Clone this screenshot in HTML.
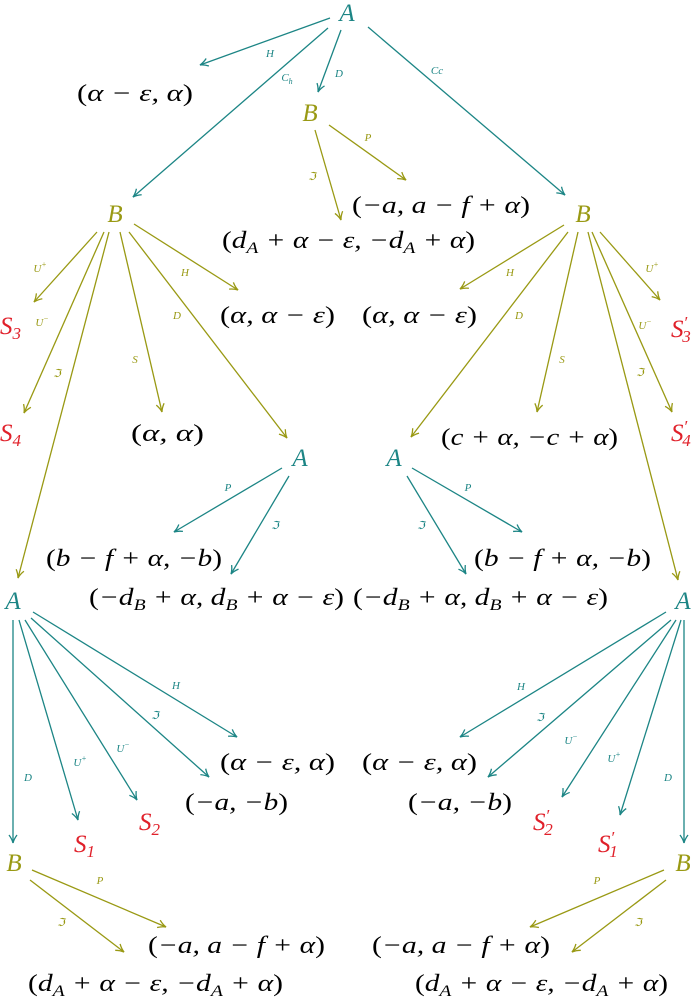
<!DOCTYPE html>
<html><head><meta charset="utf-8"><style>
html,body{margin:0;padding:0;background:#fff;font-family:"Liberation Serif",serif;}
svg{display:block;}
svg text{font-family:"Liberation Serif",serif !important;}
.m{font-style:italic;font-size:24px;fill:#000;}
.n{font-style:italic;font-size:25px;}
.l{font-style:italic;font-size:11px;text-anchor:middle;}
.t{fill:#1c8585;} .o{fill:#999913;} .r{fill:#e0202a;}
.lt{stroke:#1c8585;stroke-width:1.3;fill:none;marker-end:url(#at);}
.lo{stroke:#999913;stroke-width:1.3;fill:none;marker-end:url(#ao);}
.up{font-style:normal;}
</style></head><body>
<svg width="696" height="1000" viewBox="0 0 696 1000" xmlns="http://www.w3.org/2000/svg" font-family="Liberation Serif, serif">
<defs>
<marker id="at" markerWidth="12" markerHeight="10" refX="9" refY="5" orient="auto" markerUnits="userSpaceOnUse"><path d="M1,1 Q5,4 9,5 Q5,6 1,9" stroke="#1c8585" stroke-width="1.3" fill="none"/></marker>
<marker id="ao" markerWidth="12" markerHeight="10" refX="9" refY="5" orient="auto" markerUnits="userSpaceOnUse"><path d="M1,1 Q5,4 9,5 Q5,6 1,9" stroke="#999913" stroke-width="1.3" fill="none"/></marker>
</defs>

<text class="n t" x="347" y="21" text-anchor="middle">A</text>
<line class="lt" x1="330" y1="18" x2="200" y2="65"/>
<line class="lt" x1="328" y1="28" x2="133" y2="197"/>
<line class="lt" x1="341" y1="30" x2="318" y2="92"/>
<line class="lt" x1="368" y1="27" x2="565" y2="195"/>
<text class="l t" x="270" y="57">H</text>
<text class="l t" x="287" y="81">C<tspan font-size="8" dy="3">h</tspan></text>
<text class="l t" x="339" y="77">D</text>
<text class="l t" x="437" y="74">Cc</text>
<text class="m" x="77" y="101" textLength="116" lengthAdjust="spacingAndGlyphs"><tspan class="up">(</tspan>α − ε, α<tspan class="up">)</tspan></text>

<text class="n o" x="310" y="121" text-anchor="middle">B</text>
<line class="lo" x1="329" y1="125" x2="406" y2="180"/>
<line class="lo" x1="315" y1="130" x2="341" y2="220"/>
<text class="l o" x="368" y="141">P</text>
<text class="l o" x="312" y="180">ℑ</text>
<text class="m" x="352" y="213" textLength="178" lengthAdjust="spacingAndGlyphs"><tspan class="up">(</tspan>−a, a − f + α<tspan class="up">)</tspan></text>
<text class="m" x="222" y="248" textLength="253" lengthAdjust="spacingAndGlyphs"><tspan class="up">(</tspan>d<tspan font-size="16" dy="5">A</tspan><tspan dy="-5"> + α − ε, −d</tspan><tspan font-size="16" dy="5">A</tspan><tspan dy="-5"> + α</tspan><tspan class="up">)</tspan></text>

<text class="n o" x="115" y="222" text-anchor="middle">B</text>
<line class="lo" x1="97" y1="232" x2="34" y2="302"/>
<line class="lo" x1="104" y1="232" x2="24" y2="413"/>
<line class="lo" x1="109" y1="232" x2="18" y2="578"/>
<line class="lo" x1="120" y1="232" x2="162" y2="412"/>
<line class="lo" x1="129" y1="232" x2="287" y2="438"/>
<line class="lo" x1="134" y1="224" x2="238" y2="290"/>
<text class="l o" x="40" y="272">U<tspan font-size="8" dy="-5">+</tspan></text>
<text class="l o" x="42" y="326">U<tspan font-size="8" dy="-5">−</tspan></text>
<text class="l o" x="57" y="377">ℑ</text>
<text class="l o" x="135" y="363">S</text>
<text class="l o" x="177" y="319">D</text>
<text class="l o" x="185" y="276">H</text>
<text class="n r" x="0" y="334">S<tspan font-size="17" dy="5">3</tspan></text>
<text class="n r" x="0" y="441">S<tspan font-size="17" dy="5">4</tspan></text>
<text class="m" x="220" y="323" textLength="115" lengthAdjust="spacingAndGlyphs"><tspan class="up">(</tspan>α, α − ε<tspan class="up">)</tspan></text>
<text class="m" x="131" y="441" textLength="73" lengthAdjust="spacingAndGlyphs"><tspan class="up">(</tspan>α, α<tspan class="up">)</tspan></text>

<text class="n o" x="583" y="222" text-anchor="middle">B</text>
<line class="lo" x1="564" y1="225" x2="460" y2="289"/>
<line class="lo" x1="568" y1="232" x2="411" y2="437"/>
<line class="lo" x1="578" y1="232" x2="537" y2="412"/>
<line class="lo" x1="588" y1="232" x2="678" y2="580"/>
<line class="lo" x1="592" y1="232" x2="672" y2="412"/>
<line class="lo" x1="600" y1="232" x2="660" y2="300"/>
<text class="l o" x="510" y="276">H</text>
<text class="l o" x="519" y="319">D</text>
<text class="l o" x="562" y="363">S</text>
<text class="l o" x="640" y="376">ℑ</text>
<text class="l o" x="645" y="329">U<tspan font-size="8" dy="-5">−</tspan></text>
<text class="l o" x="652" y="272">U<tspan font-size="8" dy="-5">+</tspan></text>
<text class="n r" x="671" y="337">S<tspan font-size="17" dy="-9">′</tspan><tspan font-size="17" dx="-5" dy="14">3</tspan></text>
<text class="n r" x="671" y="441">S<tspan font-size="17" dy="-9">′</tspan><tspan font-size="17" dx="-5" dy="14">4</tspan></text>
<text class="m" x="362" y="323" textLength="115" lengthAdjust="spacingAndGlyphs"><tspan class="up">(</tspan>α, α − ε<tspan class="up">)</tspan></text>
<text class="m" x="441" y="445" textLength="177" lengthAdjust="spacingAndGlyphs"><tspan class="up">(</tspan>c + α, −c + α<tspan class="up">)</tspan></text>

<text class="n t" x="300" y="466" text-anchor="middle">A</text>
<line class="lt" x1="282" y1="468" x2="174" y2="532"/>
<line class="lt" x1="289" y1="476" x2="231" y2="574"/>
<text class="l t" x="228" y="491">P</text>
<text class="l t" x="275" y="529">ℑ</text>
<text class="n t" x="394" y="466" text-anchor="middle">A</text>
<line class="lt" x1="412" y1="468" x2="522" y2="532"/>
<line class="lt" x1="407" y1="476" x2="466" y2="574"/>
<text class="l t" x="468" y="491">P</text>
<text class="l t" x="421" y="529">ℑ</text>
<text class="m" x="46" y="566" textLength="176" lengthAdjust="spacingAndGlyphs"><tspan class="up">(</tspan>b − f + α, −b<tspan class="up">)</tspan></text>
<text class="m" x="474" y="566" textLength="177" lengthAdjust="spacingAndGlyphs"><tspan class="up">(</tspan>b − f + α, −b<tspan class="up">)</tspan></text>
<text class="m" x="89" y="605" textLength="255" lengthAdjust="spacingAndGlyphs"><tspan class="up">(</tspan>−d<tspan font-size="16" dy="5">B</tspan><tspan dy="-5"> + α, d</tspan><tspan font-size="16" dy="5">B</tspan><tspan dy="-5"> + α − ε</tspan><tspan class="up">)</tspan></text>
<text class="m" x="353" y="605" textLength="255" lengthAdjust="spacingAndGlyphs"><tspan class="up">(</tspan>−d<tspan font-size="16" dy="5">B</tspan><tspan dy="-5"> + α, d</tspan><tspan font-size="16" dy="5">B</tspan><tspan dy="-5"> + α − ε</tspan><tspan class="up">)</tspan></text>

<text class="n t" x="13" y="609" text-anchor="middle">A</text>
<line class="lt" x1="13" y1="620" x2="13" y2="843"/>
<line class="lt" x1="19" y1="620" x2="78" y2="820"/>
<line class="lt" x1="25" y1="620" x2="137" y2="800"/>
<line class="lt" x1="31" y1="618" x2="209" y2="777"/>
<line class="lt" x1="33" y1="612" x2="237" y2="737"/>
<text class="l t" x="28" y="781">D</text>
<text class="l t" x="80" y="766">U<tspan font-size="8" dy="-5">+</tspan></text>
<text class="l t" x="123" y="752">U<tspan font-size="8" dy="-5">−</tspan></text>
<text class="l t" x="155" y="719">ℑ</text>
<text class="l t" x="176" y="689">H</text>
<text class="m" x="220" y="770" textLength="115" lengthAdjust="spacingAndGlyphs"><tspan class="up">(</tspan>α − ε, α<tspan class="up">)</tspan></text>
<text class="m" x="185" y="810" textLength="103" lengthAdjust="spacingAndGlyphs"><tspan class="up">(</tspan>−a, −b<tspan class="up">)</tspan></text>
<text class="n r" x="74" y="852">S<tspan font-size="17" dy="5">1</tspan></text>
<text class="n r" x="139" y="830">S<tspan font-size="17" dy="5">2</tspan></text>

<text class="n t" x="683" y="609" text-anchor="middle">A</text>
<line class="lt" x1="684" y1="620" x2="684" y2="843"/>
<line class="lt" x1="681" y1="620" x2="620" y2="815"/>
<line class="lt" x1="676" y1="620" x2="562" y2="797"/>
<line class="lt" x1="671" y1="620" x2="488" y2="777"/>
<line class="lt" x1="666" y1="612" x2="460" y2="737"/>
<text class="l t" x="668" y="781">D</text>
<text class="l t" x="614" y="762">U<tspan font-size="8" dy="-5">+</tspan></text>
<text class="l t" x="571" y="744">U<tspan font-size="8" dy="-5">−</tspan></text>
<text class="l t" x="540" y="721">ℑ</text>
<text class="l t" x="521" y="690">H</text>
<text class="m" x="362" y="770" textLength="115" lengthAdjust="spacingAndGlyphs"><tspan class="up">(</tspan>α − ε, α<tspan class="up">)</tspan></text>
<text class="m" x="408" y="810" textLength="104" lengthAdjust="spacingAndGlyphs"><tspan class="up">(</tspan>−a, −b<tspan class="up">)</tspan></text>
<text class="n r" x="533" y="830">S<tspan font-size="17" dy="-9">′</tspan><tspan font-size="17" dx="-5" dy="14">2</tspan></text>
<text class="n r" x="598" y="852">S<tspan font-size="17" dy="-9">′</tspan><tspan font-size="17" dx="-5" dy="14">1</tspan></text>

<text class="n o" x="14" y="871" text-anchor="middle">B</text>
<line class="lo" x1="32" y1="870" x2="166" y2="927"/>
<line class="lo" x1="30" y1="880" x2="124" y2="952"/>
<text class="l o" x="100" y="884">P</text>
<text class="l o" x="61" y="926">ℑ</text>
<text class="m" x="148" y="953" textLength="177" lengthAdjust="spacingAndGlyphs"><tspan class="up">(</tspan>−a, a − f + α<tspan class="up">)</tspan></text>
<text class="m" x="28" y="991" textLength="255" lengthAdjust="spacingAndGlyphs"><tspan class="up">(</tspan>d<tspan font-size="16" dy="5">A</tspan><tspan dy="-5"> + α − ε, −d</tspan><tspan font-size="16" dy="5">A</tspan><tspan dy="-5"> + α</tspan><tspan class="up">)</tspan></text>

<text class="n o" x="683" y="871" text-anchor="middle">B</text>
<line class="lo" x1="664" y1="870" x2="530" y2="927"/>
<line class="lo" x1="666" y1="880" x2="572" y2="952"/>
<text class="l o" x="597" y="884">P</text>
<text class="l o" x="638" y="926">ℑ</text>
<text class="m" x="372" y="953" textLength="178" lengthAdjust="spacingAndGlyphs"><tspan class="up">(</tspan>−a, a − f + α<tspan class="up">)</tspan></text>
<text class="m" x="415" y="991" textLength="253" lengthAdjust="spacingAndGlyphs"><tspan class="up">(</tspan>d<tspan font-size="16" dy="5">A</tspan><tspan dy="-5"> + α − ε, −d</tspan><tspan font-size="16" dy="5">A</tspan><tspan dy="-5"> + α</tspan><tspan class="up">)</tspan></text>
</svg>
</body></html>
